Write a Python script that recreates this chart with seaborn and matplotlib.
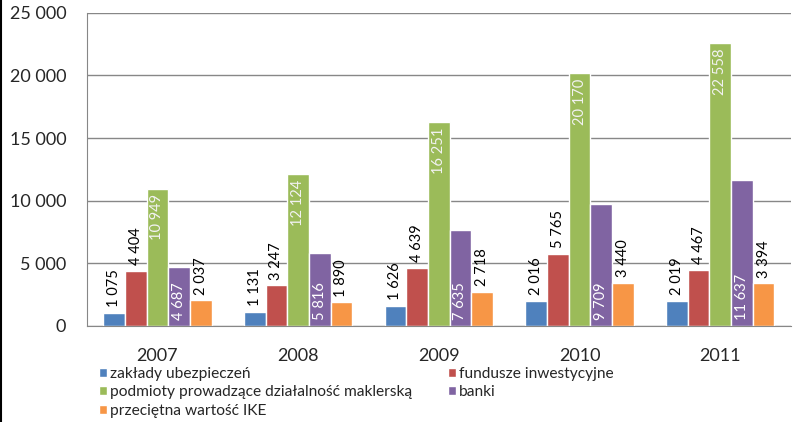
import pandas as pd
import seaborn as sns
import matplotlib.pyplot as plt
from matplotlib.ticker import FuncFormatter, FixedLocator

# dane
lata = ['2007', '2008', '2009', '2010', '2011']
serie = ['zakłady ubezpieczeń', 'fundusze inwestycyjne',
         'podmioty prowadzące działalność maklerską', 'banki',
         'przeciętna wartość IKE']
zaklady = [1075, 1131, 1626, 2016, 2019]
fundusze = [4404, 3247, 4639, 5765, 4467]
podmioty = [10949, 12124, 16251, 20170, 22558]
banki = [4687, 5816, 7635, 9709, 11637]
ike = [2037, 1890, 2718, 3440, 3394]
kolory = ['#4F81BD', '#C0504D', '#9BBB59', '#8064A2', '#F79646']

wartosci = [zaklady, fundusze, podmioty, banki, ike]
rows = []
for s, vals in zip(serie, wartosci):
    for rok, v in zip(lata, vals):
        rows.append({'rok': rok, 'seria': s, 'wartosc': v})
df = pd.DataFrame(rows)

sns.set_style('white')
plt.rcParams['font.family'] = ['Lato', 'Open Sans', 'DejaVu Sans']


def fmt(v):
    return f'{int(v):,}'.replace(',', ' ')


fig = plt.figure(figsize=(8.01, 4.22), dpi=100)
ax = fig.add_axes([0.1086, 0.2275, 0.8784, 0.7424])

sns.barplot(data=df, x='rok', y='wartosc', hue='seria', hue_order=serie,
            palette=kolory, saturation=1, width=0.77, ax=ax)

handles, labels = ax.get_legend_handles_labels()
ax.get_legend().remove()

ax.set_ylim(0, 25000)
ax.set_xlim(-0.5, 4.5)
ax.set_yticks(range(0, 25001, 5000))
ax.yaxis.set_major_formatter(FuncFormatter(lambda v, p: fmt(v)))
ax.yaxis.grid(True, color='#878787', lw=1)
ax.set_axisbelow(True)
ax.set_xlabel('')
ax.set_ylabel('')
for side in ['top', 'right']:
    ax.spines[side].set_visible(False)
for side in ['left', 'bottom']:
    ax.spines[side].set_color('#878787')
ax.tick_params(axis='y', length=5, color='#878787', pad=10, labelsize=13)
ax.tick_params(axis='x', which='major', length=0, pad=16, labelsize=13)
ax.xaxis.set_minor_locator(FixedLocator([-0.5, 0.5, 1.5, 2.5, 3.5, 4.5]))
ax.tick_params(axis='x', which='minor', length=5, color='#878787')

# etykiety danych
for i, cont in enumerate(ax.containers):
    for bar in cont:
        x = bar.get_x() + bar.get_width() / 2
        h = bar.get_height()
        txt = fmt(h)
        if i == 2:
            ax.annotate(txt, (x, h), xytext=(0, -4), textcoords='offset points',
                        rotation=90, ha='center', va='top', fontsize=10.5,
                        color='#F2F2F2')
        elif i == 3:
            ax.annotate(txt, (x, 0), xytext=(0, 4), textcoords='offset points',
                        rotation=90, ha='center', va='bottom', fontsize=10.5,
                        color='white')
        else:
            ax.annotate(txt, (x, h), xytext=(0, 4), textcoords='offset points',
                        rotation=90, ha='center', va='bottom', fontsize=10.5,
                        color='black')

# legenda: kolejność kolumnowa
order = [0, 2, 4, 1, 3]
fig.legend([handles[k] for k in order], [labels[k] for k in order],
           loc='upper left', bbox_to_anchor=(0.124, 0.131), ncol=2,
           frameon=False, fontsize=11.2, handlelength=0.5, handleheight=0.5,
           handletextpad=0.2, columnspacing=2.3, labelspacing=0.3,
           borderaxespad=0, borderpad=0)

fig.add_artist(plt.Line2D([0.0012, 0.0012], [0, 1], color='black', lw=1.5,
                          transform=fig.transFigure))

plt.savefig('out.png', dpi=100)
